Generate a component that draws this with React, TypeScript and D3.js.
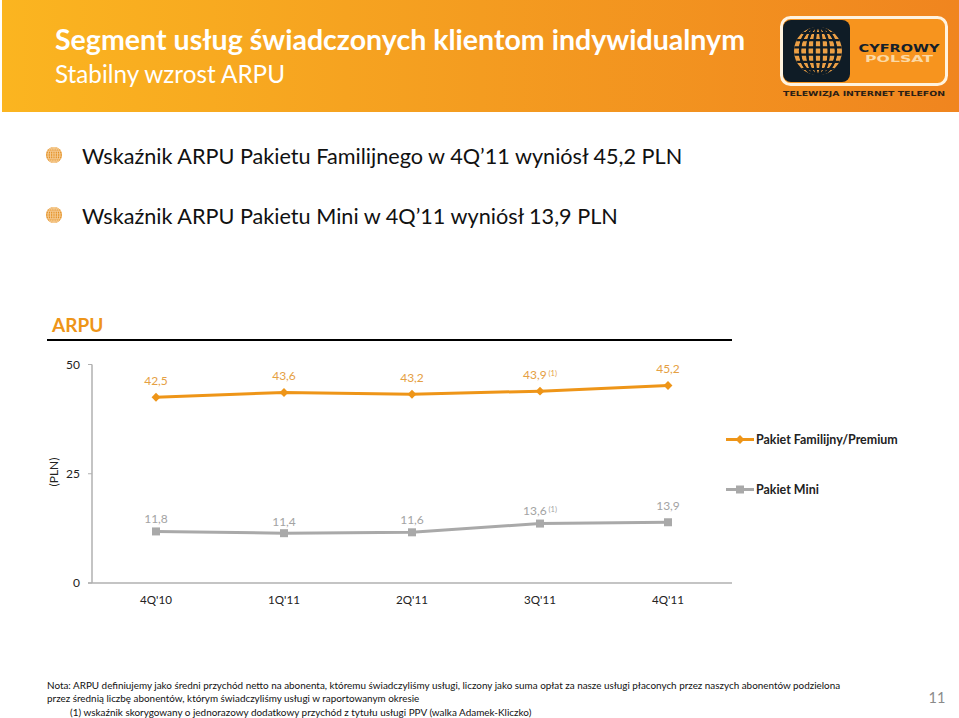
import React from "react";
import * as d3 from "d3";

const quarters = ["4Q'10", "1Q'11", "2Q'11", "3Q'11", "4Q'11"];
const familijny = [42.5, 43.6, 43.2, 43.9, 45.2];
const mini = [11.8, 11.4, 11.6, 13.6, 13.9];
const adjusted = ["3Q'11"];
const yTicks = [0, 25, 50];
const bullets = [
  "Wskaźnik ARPU Pakietu Familijnego w 4Q’11 wyniósł 45,2 PLN",
  "Wskaźnik ARPU Pakietu Mini w 4Q’11 wyniósł 13,9 PLN",
];
const notes = [
  "Nota: ARPU definiujemy jako średni przychód netto na abonenta, któremu świadczyliśmy usługi, liczony jako suma opłat za nasze usługi płaconych przez naszych abonentów podzielona",
  "przez średnią liczbę abonentów, którym świadczyliśmy usługi w raportowanym okresie",
];
const footnote = "(1)  wskaźnik skorygowany o jednorazowy  dodatkowy przychód z tytułu usługi PPV (walka Adamek-Kliczko)";

const FONT = "Lato, 'Open Sans', sans-serif";
const ORANGE = "#ee9518";
const LABEL_ORANGE = "#e5a043";
const GRAY = "#a9a9a9";
const LABEL_GRAY = "#a3a3a3";
const AXIS = "#b0b0b0";

// odstep etykiety od punktu, w kolejnosci kwartalow
const familijnyLift = [12, 12, 12, 12, 12];
const miniLift = [8.5, 7.5, 8.5, 8.5, 12.5];

const x = d3.scaleBand().domain(quarters).range([92, 732]);
const y = d3.scaleLinear().domain([0, 50]).range([583, 364.5]);
const cx = (q: string) => (x(q) as number) + x.bandwidth() / 2;
const line = d3
  .line<number>()
  .x((_, i) => cx(quarters[i]))
  .y((d) => y(d));
const fmt = (v: number) => v.toFixed(1).replace(".", ",");
const diamond = d3.symbol().type(d3.symbolDiamond2).size(50);

// siatka kuli: poludniki i rownolezniki
const Globe = ({ cx, cy, r, fill, stroke, sw }: any) => {
  const id = `globe-${cx}-${cy}`;
  const steps = [-0.75, -0.45, -0.15, 0.15, 0.45, 0.75];
  return (
    <g>
      <clipPath id={id}>
        <circle cx={cx} cy={cy} r={r} />
      </clipPath>
      <circle cx={cx} cy={cy} r={r} fill={fill} />
      <g clipPath={`url(#${id})`} fill="none" stroke={stroke} strokeWidth={sw}>
        {steps.map((s) => (
          <ellipse key={s} cx={cx} cy={cy} rx={Math.abs(s) * r} ry={r} />
        ))}
        {steps.map((s) => (
          <line key={s} x1={cx - r} x2={cx + r} y1={cy + s * r} y2={cy + s * r} />
        ))}
      </g>
    </g>
  );
};

const Logo = () => (
  <g>
    <rect x={781.5} y={17.5} width={165} height={67} rx={9} fill="#f7941e" stroke="#fff3e0" strokeWidth={3} />
    <rect x={783} y={20} width={67} height={62} rx={8} fill="#0f1c26" />
    <Globe cx={818} cy={51} r={24} fill="#eb9f45" stroke="#0f1c26" sw={2.2} />
    <text x={899} y={52} textAnchor="middle" fontFamily="'DejaVu Sans', sans-serif" fontWeight={700} fontSize={10.5} fill="#14202a" textLength={81} lengthAdjust="spacingAndGlyphs">
      CYFROWY
    </text>
    <text x={899} y={62} textAnchor="middle" fontFamily="'DejaVu Sans', sans-serif" fontWeight={700} fontSize={9.5} fill="#fbd9a5" textLength={68} lengthAdjust="spacingAndGlyphs">
      POLSAT
    </text>
    <text x={864} y={96} textAnchor="middle" fontFamily="'DejaVu Sans', sans-serif" fontWeight={700} fontSize={7} fill="#2b2016" textLength={162} lengthAdjust="spacingAndGlyphs">
      TELEWIZJA INTERNET TELEFON
    </text>
  </g>
);

const Series = ({ values, color, labelColor, marker, lift }: any) => (
  <g>
    <path d={line(values) as string} fill="none" stroke={color} strokeWidth={3} />
    {values.map((v: number, i: number) => {
      const q = quarters[i];
      return (
        <g key={q}>
          {marker === "diamond" ? (
            <path d={diamond() as string} transform={`translate(${cx(q)},${y(v)})`} fill={color} />
          ) : (
            <rect x={cx(q) - 4} y={y(v) - 4} width={8} height={8} fill={color} />
          )}
          <text x={cx(q)} y={y(v) - lift[i]} textAnchor="middle" fontFamily={FONT} fontSize={12} fill={labelColor}>
            {fmt(v)}
            {adjusted.includes(q) && (
              <tspan fontSize={7.5} dy={-3.5}>
                {" (1)"}
              </tspan>
            )}
          </text>
        </g>
      );
    })}
  </g>
);

const Chart = () => (
  <g>
    {/* os Y */}
    <line x1={92} x2={92} y1={y(50)} y2={y(0)} stroke={AXIS} strokeWidth={1.5} />
    {yTicks.map((t) => (
      <g key={t}>
        <line x1={88} x2={92} y1={y(t)} y2={y(t)} stroke={AXIS} />
        <text x={80} y={y(t) + 4} textAnchor="end" fontFamily={FONT} fontSize={12} fill="#222">
          {t}
        </text>
      </g>
    ))}
    <text transform="translate(58,472) rotate(-90)" textAnchor="middle" fontFamily={FONT} fontSize={12} fill="#222">
      (PLN)
    </text>
    {/* os X */}
    <line x1={88} x2={732} y1={y(0)} y2={y(0)} stroke={AXIS} strokeWidth={1.5} />
    {quarters.map((q) => (
      <text key={q} x={cx(q)} y={604} textAnchor="middle" fontFamily={FONT} fontSize={11.6} fill="#222">
        {q}
      </text>
    ))}
    <Series values={familijny} color={ORANGE} labelColor={LABEL_ORANGE} marker="diamond" lift={familijnyLift} />
    <Series values={mini} color={GRAY} labelColor={LABEL_GRAY} marker="square" lift={miniLift} />
    {/* legenda */}
    <g>
      <line x1={726} x2={754} y1={439.5} y2={439.5} stroke={ORANGE} strokeWidth={3} />
      <path d={diamond() as string} transform="translate(740,439.5)" fill={ORANGE} />
      <text x={756} y={443.5} fontFamily={FONT} fontWeight={700} fontSize={12.45} fill="#222">
        Pakiet Familijny/Premium
      </text>
      <line x1={726} x2={754} y1={489.5} y2={489.5} stroke={GRAY} strokeWidth={3} />
      <rect x={736} y={485.5} width={8} height={8} fill={GRAY} />
      <text x={756} y={493.5} fontFamily={FONT} fontWeight={700} fontSize={12.45} fill="#222">
        Pakiet Mini
      </text>
    </g>
  </g>
);

export default function App() {
  return (
    <svg width={959} height={718} style={{ position: "absolute", left: 0, top: 0, background: "#fff" }}>
      <defs>
        <linearGradient id="band" x1="0" x2="1" y1="0" y2="0">
          <stop offset="0" stopColor="#fbb520" />
          <stop offset="0.5" stopColor="#f49c20" />
          <stop offset="1" stopColor="#f0851f" />
        </linearGradient>
      </defs>
      <rect x={2} y={0} width={957} height={112} fill="url(#band)" />
      <text x={55} y={50} fontFamily={FONT} fontWeight={700} fontSize={28.55} fill="#fff">
        Segment usług świadczonych klientom indywidualnym
      </text>
      <text x={55} y={83} fontFamily={FONT} fontSize={24.25} fill="#fff">
        Stabilny wzrost ARPU
      </text>
      <Logo />

      {bullets.map((b, i) => (
        <g key={b}>
          <Globe cx={54} cy={155 + i * 60} r={8} fill="#e48f22" stroke="#f6cf98" sw={0.7} />
          <text x={82} y={164 + i * 60} fontFamily={FONT} fontSize={21.65} fill="#111">
            {b}
          </text>
        </g>
      ))}

      <text x={52} y={332} fontFamily={FONT} fontWeight={700} fontSize={19} fill={ORANGE}>
        ARPU
      </text>
      <line x1={47} x2={732} y1={340} y2={340} stroke="#000" strokeWidth={2} />
      <Chart />

      {notes.map((n, i) => (
        <text key={n} x={47} y={689 + i * 12.5} fontFamily={FONT} fontSize={9.88} fill="#111">
          {n}
        </text>
      ))}
      <text x={70} y={716} fontFamily={FONT} fontSize={9.93} fill="#111">
        {footnote}
      </text>
      <text x={937} y={703} textAnchor="middle" fontFamily={FONT} fontSize={14.5} fill="#8a8a8a">
        11
      </text>
    </svg>
  );
}
